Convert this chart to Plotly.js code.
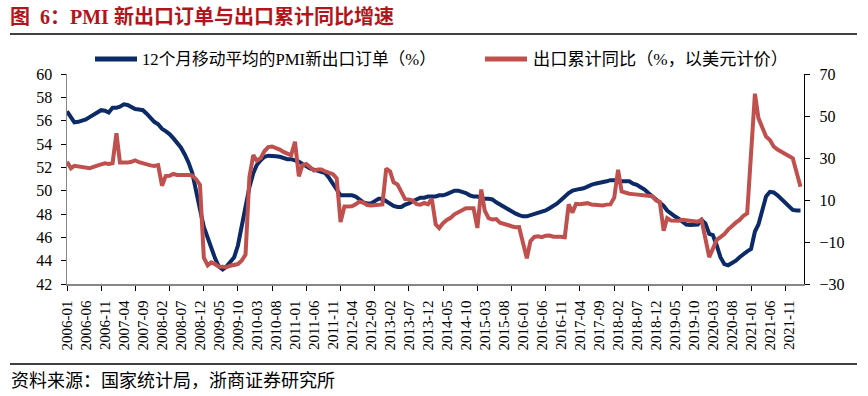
<!DOCTYPE html>
<html>
<head>
<meta charset="utf-8">
<script src="https://cdn.plot.ly/plotly-3.0.1.min.js"></script>
<style>
html,body{margin:0;padding:0;background:#fff;}
#chart{width:868px;height:396px;}
</style>
</head>
<body>
<div id="chart"></div>
<script>
// ---- data ----
const startYear = 2006, startMonth = 1, monthCount = 194; // 2006-01 .. 2022-02
const months = [];
for (let i = 0; i < monthCount; i++) {
  const y = startYear + Math.floor((startMonth - 1 + i) / 12);
  const m = ((startMonth - 1 + i) % 12) + 1;
  months.push(y + '-' + (m < 10 ? '0' + m : m));
}

// 12-month moving average of PMI new export orders (%)
const pmiNewExportMA12 = [
  56.8, 56.3, 55.85, 55.9, 56.0, 56.1, 56.3, 56.5, 56.7, 56.9, 56.85, 56.7,
  57.1, 57.1, 57.2, 57.4, 57.35, 57.2, 57.0, 56.95, 56.9, 56.6, 56.2, 55.9,
  55.7, 55.3, 55.1, 54.85, 54.5, 54.1, 53.7, 53.1, 52.4, 51.5, 50.1, 48.4,
  46.9, 45.9, 45.0, 44.2, 43.5, 43.25, 43.5, 43.85, 44.3, 45.3, 47.0, 49.0,
  50.3, 51.5, 52.2, 52.6, 52.9, 53.0, 53.0, 52.95, 52.9, 52.8, 52.7, 52.7,
  52.6, 52.5, 52.3, 52.1, 51.9, 51.8, 51.7, 51.6, 51.5, 51.1, 50.6, 50.1,
  49.6, 49.6, 49.6, 49.6, 49.5, 49.2, 49.0, 48.9, 48.9, 49.1, 49.3, 49.3,
  49.1, 48.9, 48.7, 48.6, 48.6, 48.8, 48.9, 49.1, 49.3, 49.4, 49.4, 49.5,
  49.5, 49.5, 49.6, 49.6, 49.7, 49.9, 50.0, 50.0, 49.9, 49.8, 49.6, 49.5,
  49.5, 49.4, 49.3, 49.3, 49.25, 49.0, 48.8, 48.6, 48.4, 48.2, 48.05, 47.9,
  47.8, 47.8, 47.9, 48.05, 48.1, 48.2, 48.3, 48.5, 48.7, 48.9, 49.2, 49.5,
  49.8, 50.0, 50.1, 50.15, 50.2, 50.4, 50.5, 50.6, 50.65, 50.7, 50.8, 50.9,
  50.9, 50.8, 50.8, 50.8, 50.8, 50.6, 50.5, 50.3, 50.1, 49.8, 49.5, 49.3,
  49.0, 48.7, 48.3, 48.0, 47.8, 47.6, 47.3, 47.1, 47.05, 47.05, 47.1, 47.5,
  47.2, 46.3, 46.2, 45.3, 44.3, 43.7, 43.6, 43.8, 44.0, 44.3, 44.6, 44.8,
  45.0, 46.5, 47.1, 48.5, 49.5, 49.9, 49.85, 49.6, 49.3, 48.9, 48.6, 48.35,
  48.3, 48.3
];

// Cumulative export growth YoY (%, USD)
const exportCumYoY = [
  28.2, 25.1, 26.3, 25.9, 25.6, 25.2, 25.1, 25.8, 26.6, 27.0, 27.5, 27.2,
  27.5, 41.8, 27.8, 27.6, 27.8, 28.2, 28.9, 28.0, 27.4, 26.9, 26.5, 26.2,
  26.6, 16.8, 21.4, 21.5, 22.4, 21.9, 22.0, 22.1, 21.9, 21.6, 19.8, 17.2,
  -17.5, -21.1, -19.7, -20.5, -21.8, -21.8, -22.0, -21.3, -20.9, -20.5, -18.8, -16.0,
  21.0, 31.4, 28.7, 29.9, 33.2, 35.2, 35.5, 34.9, 34.0, 32.9, 32.3, 31.3,
  37.7, 21.3, 26.5, 27.1, 25.7, 24.0, 24.5, 24.5, 23.6, 22.9, 22.3, 20.3,
  -0.5, 6.9, 7.0, 7.0, 8.0, 9.2, 8.8, 7.6, 7.4, 7.6, 7.5, 7.9,
  25.0, 23.6, 18.4, 17.4, 14.0, 10.4, 10.3, 9.7, 8.0, 7.8, 8.6, 7.9,
  10.6, -1.6, -3.4, -1.0, 0.5, 1.5, 3.2, 4.4, 5.1, 6.1, 6.0, 6.1,
  -3.3, 15.0, 4.9, 1.4, 0.7, 0.9, -0.8, -1.6, -1.9, -2.5, -3.0, -2.9,
  -11.2, -17.8, -9.6, -7.6, -7.3, -7.7, -7.0, -6.9, -7.5, -7.3, -7.5, -7.7,
  7.9, 4.0, 8.2, 8.0, 8.2, 8.5, 7.9, 7.6, 7.5, 7.4, 7.8, 7.9,
  11.1, 24.4, 14.1, 13.3, 13.0, 12.8, 12.6, 12.5, 12.4, 12.2, 11.8, 9.9,
  9.1, -4.6, 1.4, 0.2, 0.0, 0.1, 0.6, 0.3, -0.1, -0.2, -0.3, 0.5,
  null, -17.2, -13.3, -9.0, -7.7, -6.2, -4.1, -2.3, -0.8, 0.5, 2.5, 3.6,
  null, 60.6, 49.0, 44.0, 40.2, 38.6, 35.5, 34.0, 33.0, 32.3, 31.1, 29.9,
  null, 16.3
];

const seriesNames = ['12个月移动平均的PMI新出口订单（%）', '出口累计同比（%，以美元计价）'];
const leftTicks = [42, 44, 46, 48, 50, 52, 54, 56, 58, 60];
const rightTicks = [-30, -10, 10, 30, 50, 70];
const xLabelStep = 5;
const xTickVals = months.filter((_, i) => i % xLabelStep === 0);

// ---- styles ----
const BLUE = '#0B2A66';
const RED = '#C0504D';
const SERIF = '"Liberation Serif", "Times New Roman", "Noto Sans CJK SC", serif';

// plot area in px
const L = 67, R = 804, T = 74, B = 284, W = 868, H = 396;
const px = v => (v - L) / (R - L);
const py = v => (B - v) / (B - T);

const traces = [
  {
    x: months, y: pmiNewExportMA12, name: seriesNames[0], type: 'scatter', mode: 'lines',
    line: {color: BLUE, width: 4}, yaxis: 'y', showlegend: false
  },
  {
    x: months, y: exportCumYoY, name: seriesNames[1], type: 'scatter', mode: 'lines',
    line: {color: RED, width: 4}, yaxis: 'y2', connectgaps: true, showlegend: false
  }
];

const layout = {
  width: W, height: H,
  margin: {l: L, r: W - R, t: T, b: H - B, pad: 0},
  paper_bgcolor: '#fff', plot_bgcolor: '#fff',
  font: {family: SERIF, color: '#000', size: 15},
  showlegend: false,
  title: {
    text: '<b>图&nbsp;&nbsp;6：PMI 新出口订单与出口累计同比增速</b>',
    x: 10 / W, xanchor: 'left', xref: 'container',
    y: 1 - 17 / H, yanchor: 'middle', yref: 'container',
    font: {family: SERIF, size: 20, color: '#B3141C'}
  },
  xaxis: {
    type: 'date',
    range: ['2006-01-01', '2022-03-01'],
    tickmode: 'array', tickvals: xTickVals, ticktext: xTickVals,
    tickangle: -90, ticks: '', ticklabelstandoff: 9,
    tickfont: {family: SERIF, size: 15, color: '#000'},
    showline: true, linecolor: '#868686', linewidth: 1.5,
    showgrid: false, zeroline: false,
    minor: {ticks: 'outside', ticklen: 5, tickwidth: 1, tickcolor: '#000',
            tick0: '2006-01-01', dtick: 'M9', showgrid: false}
  },
  yaxis: {
    range: [42, 60], tickmode: 'array', tickvals: leftTicks,
    ticks: 'outside', ticklen: 5, tickcolor: '#000', tickwidth: 1,
    ticklabelstandoff: 5,
    tickfont: {family: SERIF, size: 16, color: '#000'},
    showline: true, linecolor: '#868686', linewidth: 1.5,
    showgrid: false, zeroline: false
  },
  yaxis2: {
    overlaying: 'y', side: 'right',
    range: [-30, 70], tickmode: 'array', tickvals: rightTicks,
    ticks: 'outside', ticklen: 5, tickcolor: '#000', tickwidth: 1,
    ticklabelstandoff: 6,
    tickfont: {family: SERIF, size: 16, color: '#000'},
    showline: true, linecolor: '#000', linewidth: 1.2,
    showgrid: false, zeroline: false
  },
  shapes: [
    {type: 'line', xref: 'paper', yref: 'paper', x0: px(10), x1: px(857), y0: py(34), y1: py(34),
     line: {color: '#000', width: 1.5}},
    {type: 'line', xref: 'paper', yref: 'paper', x0: px(10), x1: px(857), y0: py(364), y1: py(364),
     line: {color: '#000', width: 1.5}},
    {type: 'line', xref: 'paper', yref: 'paper', x0: px(95), x1: px(137), y0: py(59), y1: py(59),
     line: {color: BLUE, width: 5}},
    {type: 'line', xref: 'paper', yref: 'paper', x0: px(485), x1: px(527), y0: py(59), y1: py(59),
     line: {color: RED, width: 5}}
  ],
  annotations: [
    {text: seriesNames[0], xref: 'paper', yref: 'paper', x: px(140), y: py(59),
     xanchor: 'left', yanchor: 'middle', showarrow: false,
     font: {family: SERIF, size: 16.7, color: '#000'}},
    {text: seriesNames[1], xref: 'paper', yref: 'paper', x: px(531), y: py(59),
     xanchor: 'left', yanchor: 'middle', showarrow: false,
     font: {family: SERIF, size: 17.2, color: '#000'}},
    {text: '资料来源：国家统计局，浙商证券研究所', xref: 'paper', yref: 'paper', x: px(9), y: py(381),
     xanchor: 'left', yanchor: 'middle', showarrow: false,
     font: {family: SERIF, size: 18, color: '#000'}}
  ]
};

Plotly.newPlot('chart', traces, layout, {displayModeBar: false, staticPlot: true});
</script>
</body>
</html>
